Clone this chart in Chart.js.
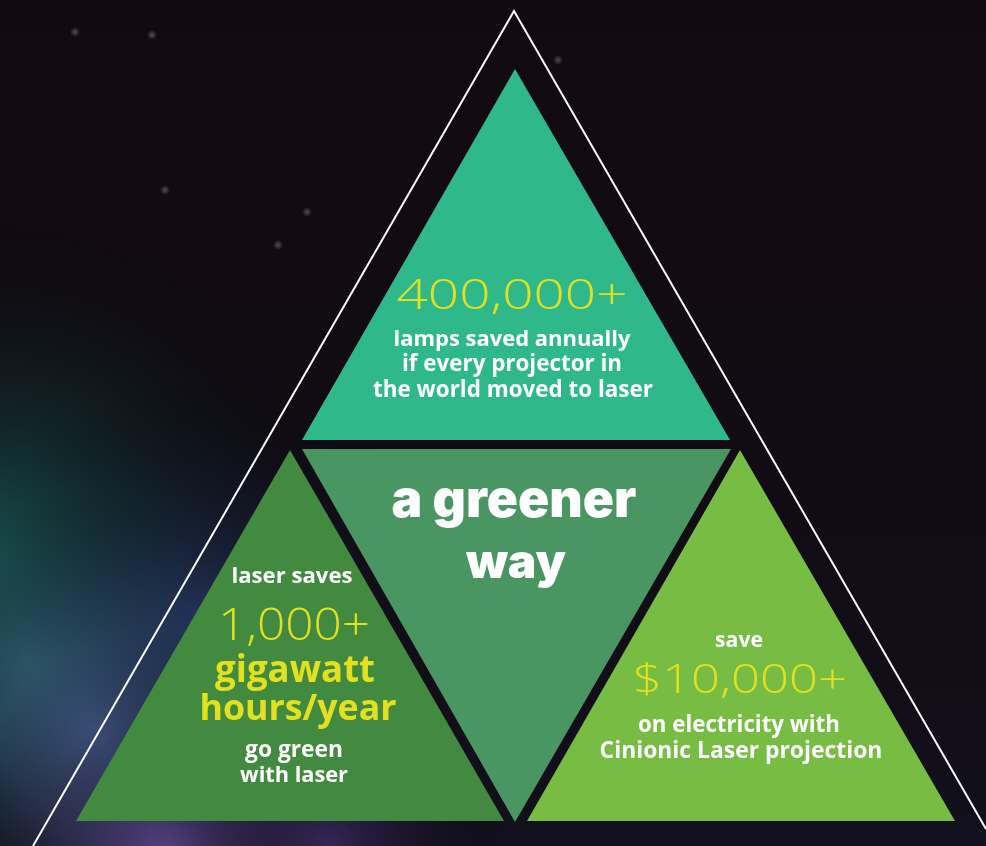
<!DOCTYPE html>
<html><head><meta charset="utf-8">
<script src="https://cdn.jsdelivr.net/npm/chart.js@4"></script>
<style>
html,body{margin:0;padding:0;background:#100b10;overflow:hidden}
#wrap{width:986px;height:846px;position:relative}
</style>
</head><body>
<div id="wrap"><canvas id="c"></canvas></div>
<script>
// ---- data ----
const panelNames = ['lamps', 'center', 'energy', 'cost'];
const lampsTriangle = [[515, 69], [302, 440], [730, 440]];
const centerTriangle = [[302, 449], [731, 449], [515, 822]];
const energyTriangle = [[290, 450], [76, 821], [504, 821]];
const costTriangle = [[740, 450], [527, 821], [955, 821]];
const outlineLine = [[33, 846], [514, 11], [986, 829]];

const headlineValues = ['400,000+', '1,000+', '$10,000+'];
const lampsCaption = ['lamps saved annually', 'if every projector in', 'the world moved to laser'];
const centerTitle = ['a greener', 'way'];
const energyIntro = ['laser saves'];
const energyUnit = ['gigawatt', 'hours/year'];
const energyCaption = ['go green', 'with laser'];
const costIntro = ['save'];
const costCaption = ['on electricity with', 'Cinionic Laser projection'];

// ---- styles ----
const panelColors = ['#2fb98b', '#4a9663', '#428a3f', '#77bc43'];
const YELLOW = '#e3e11f';
const WHITE = '#ffffff';
const BOLD_FAMILY = "'Open Sans', 'DejaVu Sans', sans-serif";
const LIGHT_FAMILY = "'Open Sans', Roboto, Lato, sans-serif";
const HEAVY_FAMILY = "Inter, Roboto, 'Open Sans', sans-serif";

function poly(tri) {
  const pts = tri.map(([x, y]) => ({x, y}));
  pts.push({x: tri[0][0], y: tri[0][1]});
  return pts;
}

const triangles = [lampsTriangle, centerTriangle, energyTriangle, costTriangle];
const datasets = triangles.map((t, i) => ({
  label: panelNames[i],
  data: poly(t),
  showLine: true,
  fill: 'shape',
  backgroundColor: panelColors[i],
  borderColor: panelColors[i],
  borderWidth: 0,
  pointRadius: 0,
  tension: 0
}));
datasets.push({
  label: 'outline',
  data: outlineLine.map(([x, y]) => ({x, y})),
  showLine: true,
  fill: false,
  borderColor: '#ffffff',
  borderWidth: 2,
  pointRadius: 0,
  tension: 0
});

const backgroundPlugin = {
  id: 'bg',
  beforeDraw(chart) {
    const ctx = chart.ctx, W = chart.width, H = chart.height;
    ctx.save();
    let g = ctx.createLinearGradient(0, 0, 0, H);
    g.addColorStop(0, '#120a0f');
    g.addColorStop(0.6, '#110c14');
    g.addColorStop(1, '#12101c');
    ctx.fillStyle = g; ctx.fillRect(0, 0, W, H);
    const glows = [
      [0, 560, 350, 'rgba(30,105,105,0.85)'],
      [30, 660, 270, 'rgba(45,135,130,0.75)'],
      [95, 730, 240, 'rgba(90,125,185,0.85)'],
      [170, 850, 220, 'rgba(110,80,165,0.8)'],
      [210, 620, 250, 'rgba(50,65,130,0.55)'],
      [330, 846, 180, 'rgba(85,60,140,0.5)']
    ];
    glows.forEach(([x, y, r, c]) => {
      const rg = ctx.createRadialGradient(x, y, 0, x, y, r);
      rg.addColorStop(0, c);
      rg.addColorStop(1, 'rgba(0,0,0,0)');
      ctx.fillStyle = rg; ctx.fillRect(0, 0, W, H);
    });
    const stars = [[75, 32], [152, 35], [165, 190], [278, 245], [307, 212], [558, 60]];
    stars.forEach(([x, y]) => {
      const rg = ctx.createRadialGradient(x, y, 0, x, y, 5);
      rg.addColorStop(0, 'rgba(180,180,180,0.4)');
      rg.addColorStop(1, 'rgba(180,180,180,0)');
      ctx.fillStyle = rg; ctx.fillRect(x - 6, y - 6, 12, 12);
    });
    ctx.restore();
  }
};

// layout of text blocks (x, baseline y in chart units, target width / cap height in px)
const textLayout = [
  {t: headlineValues[0], x: 512, y: 309, w: 231, h: 31, wt: 300, f: LIGHT_FAMILY, c: YELLOW},
  {t: lampsCaption[0], x: 512, y: 346, w: 237, wt: 700, f: BOLD_FAMILY, c: WHITE},
  {t: lampsCaption[1], x: 512, y: 371, w: 220, wt: 700, f: BOLD_FAMILY, c: WHITE},
  {t: lampsCaption[2], x: 513, y: 397, w: 280, wt: 700, f: BOLD_FAMILY, c: WHITE},
  {t: centerTitle[0], x: 514, y: 517, w: 245, wt: 900, f: HEAVY_FAMILY, c: WHITE},
  {t: centerTitle[1], x: 516, y: 578, w: 100, wt: 900, f: HEAVY_FAMILY, c: WHITE},
  {t: energyIntro[0], x: 292, y: 583, w: 121, wt: 700, f: BOLD_FAMILY, c: WHITE},
  {t: headlineValues[1], x: 294, y: 640, w: 152, h: 32, wt: 300, f: LIGHT_FAMILY, c: YELLOW},
  {t: energyUnit[0], x: 295, y: 682, w: 160, wt: 700, f: BOLD_FAMILY, c: YELLOW},
  {t: energyUnit[1], x: 298, y: 720, w: 197, wt: 700, f: BOLD_FAMILY, c: YELLOW},
  {t: energyCaption[0], x: 294, y: 757, w: 98, wt: 700, f: BOLD_FAMILY, c: WHITE},
  {t: energyCaption[1], x: 294, y: 782, w: 108, wt: 700, f: BOLD_FAMILY, c: WHITE},
  {t: costIntro[0], x: 739, y: 647, w: 48, wt: 700, f: BOLD_FAMILY, c: WHITE},
  {t: headlineValues[2], x: 740, y: 693, w: 214, h: 30, wt: 300, f: LIGHT_FAMILY, c: YELLOW},
  {t: costCaption[0], x: 739, y: 732, w: 202, wt: 700, f: BOLD_FAMILY, c: WHITE},
  {t: costCaption[1], x: 741, y: 758, w: 283, wt: 700, f: BOLD_FAMILY, c: WHITE}
];

const textPlugin = {
  id: 'texts',
  afterDatasetsDraw(chart) {
    const ctx = chart.ctx, sx = chart.scales.x, sy = chart.scales.y;
    ctx.save();
    ctx.textAlign = 'center';
    ctx.textBaseline = 'alphabetic';
    textLayout.forEach(it => {
      ctx.font = `${it.wt} 100px ${it.f}`;
      const m = ctx.measureText(it.t);
      let size, stretch = 1;
      if (it.h) {
        const cap = ctx.measureText('0').actualBoundingBoxAscent / 100;
        size = it.h / cap;
        stretch = it.w / (m.width * size / 100);
      } else {
        size = 100 * it.w / m.width;
      }
      ctx.font = `${it.wt} ${size.toFixed(2)}px ${it.f}`;
      ctx.fillStyle = it.c;
      ctx.save();
      ctx.translate(sx.getPixelForValue(it.x), sy.getPixelForValue(it.y));
      ctx.scale(stretch, 1);
      ctx.fillText(it.t, 0, 0);
      ctx.restore();
    });
    ctx.restore();
  }
};

new Chart(document.getElementById('c'), {
  type: 'scatter',
  data: {datasets},
  options: {
    responsive: true,
    maintainAspectRatio: false,
    animation: false,
    layout: {padding: 0},
    scales: {
      x: {type: 'linear', min: 0, max: 986, display: false},
      y: {type: 'linear', min: 0, max: 846, reverse: true, display: false}
    },
    plugins: {legend: {display: false}, tooltip: {enabled: false}},
    elements: {line: {tension: 0}}
  },
  plugins: [backgroundPlugin, textPlugin]
});
</script>
</body></html>
